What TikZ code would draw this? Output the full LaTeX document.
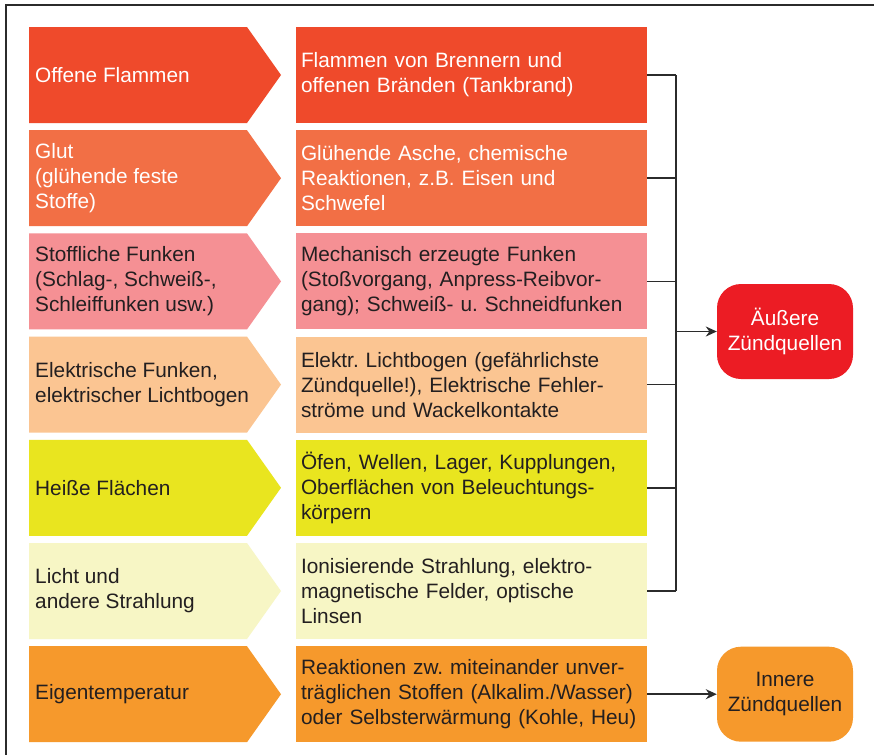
\documentclass[tikz,border=0pt]{standalone}
\usepackage{fontspec}
\setmainfont{Liberation Sans}
\usetikzlibrary{arrows.meta}
\frenchspacing
\definecolor{c1}{HTML}{EF4A2B}
\definecolor{c2}{HTML}{F26F45}
\definecolor{c3}{HTML}{F59094}
\definecolor{c4}{HTML}{FBC592}
\definecolor{c5}{HTML}{E9E51F}
\definecolor{c6}{HTML}{F7F6C5}
\definecolor{c7}{HTML}{F6992C}
\definecolor{cred}{HTML}{EC1C24}
\definecolor{ink}{HTML}{231F20}
\definecolor{line}{HTML}{2B2B2B}
\tikzset{
  txt/.style={font=\fontsize{20.8}{25}\selectfont, text=ink},
  ltext/.style={txt, anchor=west, align=left, inner sep=0pt},
  rbox/.style={txt, rectangle, text width=341pt, inner xsep=5pt, inner ysep=7pt, minimum height=96pt, align=left},
  rounded/.style={txt, rectangle, rounded corners=24pt, minimum width=136pt, minimum height=95pt, align=center, inner sep=0pt},
  conn/.style={draw=line, line width=1.5pt},
  arr/.style={conn, -{Stealth[length=11pt,width=10pt]}},
}
\newcommand{\chev}[2]{\fill[#1] (29,#2) -- (247,#2) -- (281,#2+48) -- (247,#2+96) -- (29,#2+96) -- cycle;}
\begin{document}
\begin{tikzpicture}[x=1pt,y=-1pt]
\useasboundingbox (0,0) rectangle (874,755);
\fill[white] (0,0) rectangle (874,755);
\draw[line width=1.6pt, draw=line] (874,5) -- (6,5) -- (6,755);

% left chevrons
\chev{c1}{27}
\chev{c2}{130.2}
\chev{c3}{233.4}
\chev{c4}{336.6}
\chev{c5}{439.8}
\chev{c6}{543}
\chev{c7}{646.2}

\node[ltext, text=white] (l1) at (35,75) {Offene Flammen};
\node[ltext, text=white] (l2) at (35,178.2) {Glut\\(glühende feste\\Stoffe)};
\node[ltext] (l3) at (35,281.4) {Stoffliche Funken\\(Schlag-, Schweiß-,\\Schleiffunken usw.)};
\node[ltext] (l4) at (35,384.6) {Elektrische Funken,\\elektrischer Lichtbogen};
\node[ltext] (l5) at (35,487.8) {Heiße Flächen};
\node[ltext] (l6) at (35,591) {Licht und\\andere Strahlung};
\node[ltext] (l7) at (35,694.2) {Eigentemperatur};

% right boxes
\node[rbox, fill=c1, text=white] (r1) at (471.5,75) {Flammen von Brennern und\\offenen Bränden (Tankbrand)};
\node[rbox, fill=c2, text=white] (r2) at (471.5,178.2) {Glühende Asche, chemische\\Reaktionen, z.B. Eisen und\\Schwefel};
\node[rbox, fill=c3] (r3) at (471.5,281.4) {Mechanisch erzeugte Funken\\(Stoßvorgang, Anpress-Reibvor-\\gang); Schweiß- u. Schneidfunken};
\node[rbox, fill=c4] (r4) at (471.5,384.6) {Elektr. Lichtbogen (gefährlichste\\Zündquelle!), Elektrische Fehler-\\ströme und Wackelkontakte};
\node[rbox, fill=c5] (r5) at (471.5,487.8) {Öfen, Wellen, Lager, Kupplungen,\\Oberflächen von Beleuchtungs-\\körpern};
\node[rbox, fill=c6] (r6) at (471.5,591) {Ionisierende Strahlung, elektro-\\magnetische Felder, optische\\Linsen};
\node[rbox, fill=c7] (r7) at (471.5,694.2) {Reaktionen zw. miteinander unver-\\träglichen Stoffen (Alkalim./Wasser)\\oder Selbsterwärmung (Kohle, Heu)};

% targets
\node[rounded, fill=cred, text=white] (aus) at (785,331.5) {Äußere\\Zündquellen};
\node[rounded, fill=c7] (inn) at (785,694.2) {Innere\\Zündquellen};

% connectors
\coordinate (bt) at (676,75);
\coordinate (bb) at (676,591);
\draw[conn] (bt) -- (bb);
\foreach \r in {r1,r2,r3,r4,r5,r6} { \draw[conn] (\r.east) -- (\r.east -| bt); }
\draw[arr] (aus.west -| bt) -- (aus.west);
\draw[arr] (r7.east) -- (inn.west);
\end{tikzpicture}
\end{document}
